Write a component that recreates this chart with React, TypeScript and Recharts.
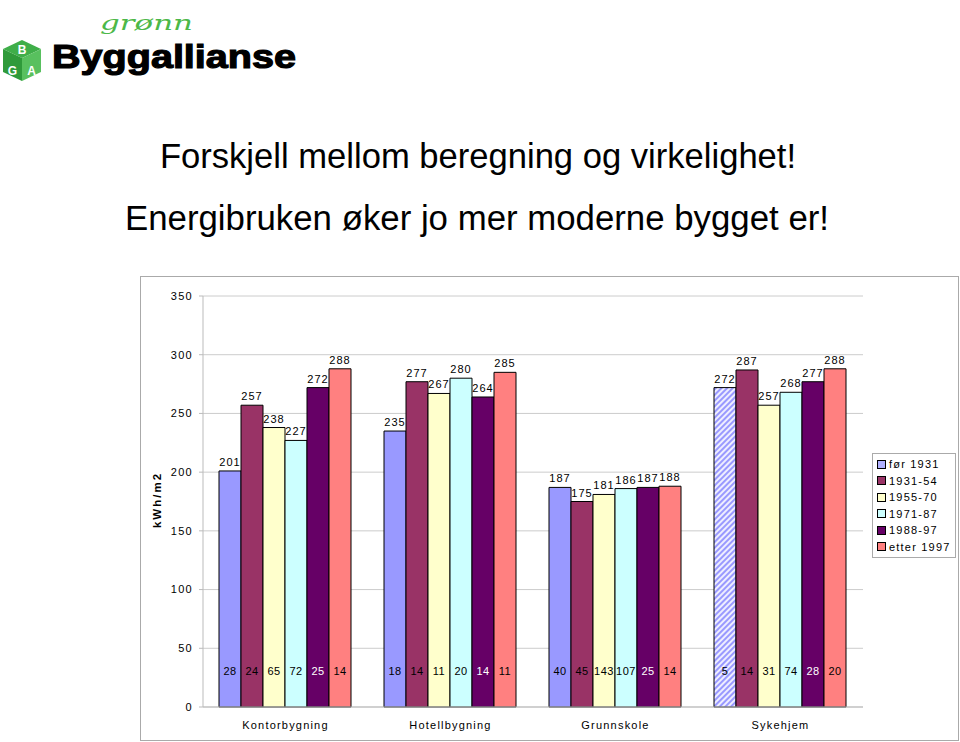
import React from "react";
import {
    BarChart,
    Bar,
    XAxis,
    YAxis,
    CartesianGrid,
    LabelList,
    Cell,
} from "recharts";

const categories = ["Kontorbygning", "Hotellbygning", "Grunnskole", "Sykehjem"];

// kWh/m2 per byggeår
const for1931 = [201, 235, 187, 272];
const y1931_54 = [257, 277, 175, 287];
const y1955_70 = [238, 267, 181, 257];
const y1971_87 = [227, 280, 186, 268];
const y1988_97 = [272, 264, 187, 277];
const etter1997 = [288, 285, 188, 288];

// antall bygg i utvalget
const nFor1931 = [28, 18, 40, 5];
const n1931_54 = [24, 14, 45, 14];
const n1955_70 = [65, 11, 143, 31];
const n1971_87 = [72, 20, 107, 74];
const n1988_97 = [25, 14, 25, 28];
const nEtter1997 = [14, 11, 14, 20];

const yTicks = [0, 50, 100, 150, 200, 250, 300, 350];

const series = [
    { key: "s0", name: "før 1931", color: "#9999FF", values: for1931, counts: nFor1931, countColor: "#000" },
    { key: "s1", name: "1931-54", color: "#993366", values: y1931_54, counts: n1931_54, countColor: "#000" },
    { key: "s2", name: "1955-70", color: "#FFFFCC", values: y1955_70, counts: n1955_70, countColor: "#000" },
    { key: "s3", name: "1971-87", color: "#CCFFFF", values: y1971_87, counts: n1971_87, countColor: "#000" },
    { key: "s4", name: "1988-97", color: "#660066", values: y1988_97, counts: n1988_97, countColor: "#fff" },
    { key: "s5", name: "etter 1997", color: "#FF8080", values: etter1997, counts: nEtter1997, countColor: "#000" },
];

const data = categories.map((name, i) => {
    const row: any = { name };
    series.forEach((s) => {
        row[s.key] = s.values[i];
    });
    return row;
});

const FONT = "'Liberation Sans', Arial, sans-serif";

const countLabel = (counts: number[], color: string) => (props: any) => {
    const { x, y, width, height, index } = props;
    return (
        <text
            x={x + width / 2}
            y={y + height - 32}
            textAnchor="middle"
            fontSize={11}
            letterSpacing={0.5}
            fontFamily={FONT}
            fill={color}
        >
            {counts[index]}
        </text>
    );
};

const LegendBox = () => (
    <div
        style={{
            position: "absolute",
            left: 872,
            top: 453,
            width: 74,
            border: "1px solid #aaa",
            background: "#fff",
            padding: "2px 4px 2px 4px",
            fontFamily: FONT,
            fontSize: 11,
            letterSpacing: 1.2,
        }}
    >
        {series.map((s) => (
            <div key={s.key} style={{ display: "flex", alignItems: "center", height: 16.5 }}>
                <span
                    style={{
                        display: "inline-block",
                        width: 7,
                        height: 7,
                        background: s.key === "s0" ? "#b0b0ff" : s.color,
                        border: "1px solid #000",
                        marginRight: 3,
                    }}
                />
                <span style={{ color: "#000" }}>{s.name}</span>
            </div>
        ))}
    </div>
);

const Logo = () => (
    <g>
        <polygon points="22,40 41,49 22,58 3,49" fill="#3fae49" />
        <polygon points="3,49 22,58 22,81 3,72" fill="#2f9a3a" />
        <polygon points="22,58 41,49 41,72 22,81" fill="#58c05e" />
        <text x={22} y={54} textAnchor="middle" fontSize={12} fontWeight="bold" fill="#fff" fontFamily={FONT}>B</text>
        <text x={12.5} y={75} textAnchor="middle" fontSize={12} fontWeight="bold" fill="#fff" fontFamily={FONT}>G</text>
        <text x={31.5} y={75} textAnchor="middle" fontSize={12} fontWeight="bold" fill="#fff" fontFamily={FONT}>A</text>
        <text
            x={100}
            y={30}
            fontSize={21}
            fontStyle="italic"
            fill="#4cb848"
            fontFamily="'DejaVu Serif', serif"
            textLength={93}
            lengthAdjust="spacingAndGlyphs"
        >
            grønn
        </text>
        <text
            x={52}
            y={68}
            fontSize={34}
            fontWeight="bold"
            fill="#000"
            stroke="#000"
            strokeWidth={1.2}
            fontFamily={FONT}
            textLength={244}
            lengthAdjust="spacingAndGlyphs"
        >
            Byggallianse
        </text>
    </g>
);

export default function App() {
    return (
        <div
            style={{
                position: "absolute",
                left: 0,
                top: 0,
                width: 960,
                height: 742,
                background: "#fff",
                overflow: "hidden",
            }}
        >
            <svg width={960} height={742} style={{ position: "absolute", left: 0, top: 0 }}>
                <Logo />
                <text x={478} y={168} textAnchor="middle" fontSize={34.6} fontFamily={FONT} fill="#000">
                    Forskjell mellom beregning og virkelighet!
                </text>
                <text x={477} y={230} textAnchor="middle" fontSize={34.8} fontFamily={FONT} fill="#000">
                    Energibruken øker jo mer moderne bygget er!
                </text>
            </svg>
            <div
                style={{
                    position: "absolute",
                    left: 140,
                    top: 276,
                    width: 817,
                    height: 463,
                    border: "1px solid #aaa",
                    background: "#fff",
                }}
            >
                <BarChart
                    width={817}
                    height={463}
                    data={data}
                    margin={{ top: 19, right: 95, left: 12, bottom: 3 }}
                    barCategoryGap={16}
                    barGap={0}
                >
                    <defs>
                        <pattern
                            id="hatch"
                            patternUnits="userSpaceOnUse"
                            width={4}
                            height={4}
                            patternTransform="rotate(45)"
                        >
                            <rect width={4} height={4} fill="#eeeeff" />
                            <rect width={2} height={4} fill="#9999FF" />
                        </pattern>
                    </defs>
                    <CartesianGrid vertical={false} stroke="#cccccc" />
                    <XAxis
                        dataKey="name"
                        height={30}
                        tickLine={false}
                        axisLine={{ stroke: "#bbb" }}
                        tick={{ fontSize: 11, fill: "#000", fontFamily: FONT, letterSpacing: 1.2 }}
                        tickMargin={8}
                    />
                    <YAxis
                        width={50}
                        domain={[0, 350]}
                        ticks={yTicks}
                        axisLine={{ stroke: "#bbb" }}
                        tickLine={{ stroke: "#bbb" }}
                        tickSize={4}
                        tickMargin={6}
                        tick={{ fontSize: 11, fill: "#000", fontFamily: FONT, letterSpacing: 1.3 }}
                    />
                    {series.map((s) => (
                        <Bar
                            key={s.key}
                            dataKey={s.key}
                            name={s.name}
                            fill={s.color}
                            stroke="#000"
                            strokeWidth={1}
                            isAnimationActive={false}
                        >
                            {s.key === "s0" &&
                                data.map((d, i) => (
                                    <Cell key={i} fill={i === 3 ? "url(#hatch)" : s.color} />
                                ))}
                            <LabelList
                                dataKey={s.key}
                                position="top"
                                offset={5}
                                style={{ fontSize: 11, fill: "#000", fontFamily: FONT, letterSpacing: 1 }}
                            />
                            <LabelList dataKey={s.key} content={countLabel(s.counts, s.countColor)} />
                        </Bar>
                    ))}
                </BarChart>
            </div>
            <LegendBox />
            <svg width={960} height={742} style={{ position: "absolute", left: 0, top: 0, pointerEvents: "none" }}>
                <text
                    transform="translate(161,500) rotate(-90)"
                    textAnchor="middle"
                    fontSize={11.5}
                    fontWeight="bold"
                    letterSpacing={2}
                    fontFamily={FONT}
                    fill="#000"
                >
                    kWh/m2
                </text>
            </svg>
        </div>
    );
}
